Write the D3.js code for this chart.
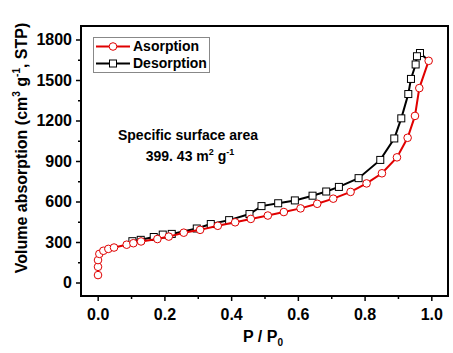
<!DOCTYPE html>
<html lang="en">
<head>
  <meta charset="UTF-8">
  <title>Adsorption isotherm</title>
  <script src="https://d3js.org/d3.v7.min.js"></script>
  <style>
    body { margin: 0; background: #fff; }
    text { font-family: "Liberation Sans", Arial, sans-serif; font-weight: bold; }
  </style>
</head>
<body>
  <svg id="chart"></svg>

  <script>
    // adsorption branch (P/P0, volume)
    const adsP = [0.001, 0.001, 0.001, 0.005, 0.017, 0.032, 0.049, 0.087, 0.107, 0.130,
                  0.179, 0.213, 0.258, 0.307, 0.360, 0.412, 0.459, 0.510, 0.558, 0.608,
                  0.658, 0.706, 0.758, 0.806, 0.852, 0.897, 0.929, 0.951, 0.964, 0.992];
    const adsV = [55, 116, 166, 212, 235, 249, 259, 280, 291, 304,
                  322, 340, 369, 390, 420, 446, 471, 496, 522, 549,
                  583, 621, 671, 734, 809, 927, 1072, 1234, 1440, 1642];

    // desorption branch
    const desP = [0.992, 0.966, 0.957, 0.953, 0.939, 0.931, 0.910, 0.889, 0.847, 0.782,
                  0.723, 0.685, 0.644, 0.591, 0.541, 0.491, 0.455, 0.394, 0.339, 0.297,
                  0.222, 0.195, 0.168, 0.129, 0.104];
    const desV = [1642, 1700, 1676, 1615, 1508, 1396, 1216, 1067, 908, 773,
                  708, 674, 643, 608, 587, 566, 507, 462, 433, 400,
                  360, 355, 337, 316, 306];

    const xTicks = [0, 0.2, 0.4, 0.6, 0.8, 1.0];
    const yTicks = [0, 300, 600, 900, 1200, 1500, 1800];

    const width = 453, height = 353;
    const margin = { left: 81, right: 5, top: 26, bottom: 57 };

    const svg = d3.select("#chart")
      .attr("width", width)
      .attr("height", height);

    const x = d3.scaleLinear().domain([-0.05, 1.05]).range([margin.left, width - margin.right]);
    const y = d3.scaleLinear().domain([-100, 1900]).range([height - margin.bottom, margin.top]);

    const ads = adsP.map((p, i) => [p, adsV[i]]);
    const des = desP.map((p, i) => [p, desV[i]]);

    // axes
    svg.append("g")
      .attr("transform", `translate(0,${height - margin.bottom})`)
      .call(d3.axisBottom(x).tickValues(xTicks).tickFormat(d3.format(".1f")).tickSize(5).tickPadding(8));
    svg.append("g")
      .attr("transform", `translate(0,${height - margin.bottom})`)
      .call(d3.axisBottom(x).tickValues(d3.range(0.1, 1.01, 0.2)).tickFormat("").tickSize(3));

    svg.append("g")
      .attr("transform", `translate(${margin.left},0)`)
      .call(d3.axisLeft(y).tickValues(yTicks).tickFormat(d3.format("d")).tickSize(5).tickPadding(4));
    svg.append("g")
      .attr("transform", `translate(${margin.left},0)`)
      .call(d3.axisLeft(y).tickValues(d3.range(150, 1800, 300)).tickFormat("").tickSize(3));

    svg.selectAll(".domain").remove();
    svg.selectAll(".tick line").attr("stroke", "#000").attr("stroke-width", 1.5);
    svg.selectAll(".tick text").attr("font-size", 16).attr("fill", "#000")
      .style("font-family", "'Liberation Sans', Arial, sans-serif").style("font-weight", "bold");

    // frame
    svg.append("rect")
      .attr("x", margin.left)
      .attr("y", margin.top)
      .attr("width", width - margin.left - margin.right)
      .attr("height", height - margin.top - margin.bottom)
      .attr("fill", "none")
      .attr("stroke", "#000")
      .attr("stroke-width", 2);

    const line = d3.line().x(d => x(d[0])).y(d => y(d[1]));

    // desorption first so adsorption sits on top at low pressure
    svg.append("path")
      .datum(des)
      .attr("d", line)
      .attr("fill", "none")
      .attr("stroke", "#000")
      .attr("stroke-width", 2);

    svg.selectAll(".sq")
      .data(des.slice(1))
      .join("rect")
      .attr("class", "sq")
      .attr("x", d => x(d[0]) - 3.5)
      .attr("y", d => y(d[1]) - 3.5)
      .attr("width", 7)
      .attr("height", 7)
      .attr("fill", "#fff")
      .attr("stroke", "#000")
      .attr("stroke-width", 1);

    svg.append("path")
      .datum(ads)
      .attr("d", line)
      .attr("fill", "none")
      .attr("stroke", "#e00000")
      .attr("stroke-width", 2);

    svg.selectAll(".ci")
      .data(ads)
      .join("circle")
      .attr("class", "ci")
      .attr("cx", d => x(d[0]))
      .attr("cy", d => y(d[1]))
      .attr("r", 3.8)
      .attr("fill", "#fff")
      .attr("stroke", "#e00000")
      .attr("stroke-width", 1);

    // legend
    const lg = svg.append("g");
    lg.append("rect")
      .attr("x", 93.5).attr("y", 37.5).attr("width", 116).attr("height", 35)
      .attr("fill", "#fff").attr("stroke", "#888").attr("stroke-width", 1);
    const items = [
      { name: "Asorption", color: "#e00000", shape: "circle", yy: 46.5 },
      { name: "Desorption", color: "#000", shape: "square", yy: 63.5 }
    ];
    items.forEach(it => {
      lg.append("line")
        .attr("x1", 96).attr("x2", 130).attr("y1", it.yy).attr("y2", it.yy)
        .attr("stroke", it.color).attr("stroke-width", 2);
      if (it.shape === "circle") {
        lg.append("circle").attr("cx", 113).attr("cy", it.yy).attr("r", 3.8)
          .attr("fill", "#fff").attr("stroke", it.color);
      } else {
        lg.append("rect").attr("x", 109.5).attr("y", it.yy - 3.5).attr("width", 7).attr("height", 7)
          .attr("fill", "#fff").attr("stroke", it.color);
      }
      lg.append("text")
        .attr("x", 133).attr("y", it.yy).attr("dy", "0.35em")
        .attr("font-size", 14).attr("fill", "#000")
        .text(it.name);
    });

    // annotation
    svg.append("text")
      .attr("x", 188).attr("y", 140)
      .attr("text-anchor", "middle").attr("font-size", 14).attr("fill", "#000")
      .text("Specific surface area");
    const ann2 = svg.append("text")
      .attr("x", 190).attr("y", 161)
      .attr("text-anchor", "middle").attr("font-size", 14).attr("fill", "#000");
    ann2.append("tspan").text("399. 43 m");
    ann2.append("tspan").attr("font-size", 9).attr("dy", -6).text("2");
    ann2.append("tspan").attr("dy", 6).text(" g");
    ann2.append("tspan").attr("font-size", 9).attr("dy", -6).text("-1");

    // axis titles
    const xt = svg.append("text")
      .attr("x", 263).attr("y", 342)
      .attr("text-anchor", "middle").attr("font-size", 16).attr("fill", "#000");
    xt.append("tspan").text("P / P");
    xt.append("tspan").attr("font-size", 10).attr("dy", 4).text("0");

    const yt = svg.append("text")
      .attr("transform", `translate(27,148) rotate(-90)`)
      .attr("text-anchor", "middle").attr("font-size", 16).attr("fill", "#000");
    yt.append("tspan").text("Volume absorption (cm");
    yt.append("tspan").attr("font-size", 10).attr("dy", -7).text("3");
    yt.append("tspan").attr("dy", 7).text(" g");
    yt.append("tspan").attr("font-size", 10).attr("dy", -7).text("-1");
    yt.append("tspan").attr("dy", 7).text(", STP)");
  </script>
</body>
</html>
